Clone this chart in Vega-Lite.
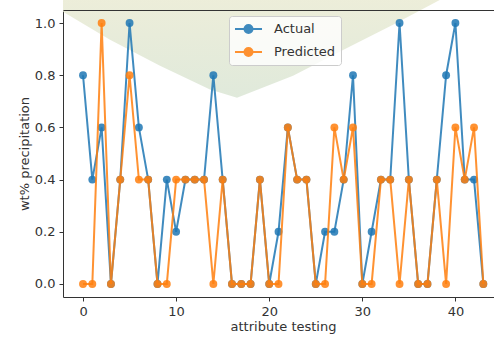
{
  "$schema": "https://vega.github.io/schema/vega-lite/v6.json",
  "autosize": "none",
  "width": 433,
  "height": 287,
  "padding": {"left": 63, "top": 10, "right": 0, "bottom": 40},
  "background": "white",
  "config": {
    "font": "DejaVu Sans",
    "view": {"stroke": null},
    "axis": {
      "grid": false,
      "domain": true,
      "domainColor": "#333333",
      "tickColor": "#333333",
      "tickSize": 4,
      "labelColor": "#333333",
      "labelFontSize": 13,
      "titleColor": "#333333",
      "titleFontSize": 13,
      "titleFontWeight": "normal",
      "zindex": 1
    }
  },
  "resolve": {"axis": {"x": "independent", "y": "independent"}},
  "datasets": {
    "backdrop": [
      {"i": -2.15, "y": 1.043},
      {"i": 2.9, "y": 0.936},
      {"i": 8.27, "y": 0.836},
      {"i": 13.64, "y": 0.745},
      {"i": 16.54, "y": 0.714},
      {"i": 22.56, "y": 0.798},
      {"i": 27.93, "y": 0.897},
      {"i": 33.3, "y": 0.993},
      {"i": 38.35, "y": 1.089}
    ],
    "results": [
      {"i": 0, "series": "Actual", "value": 0.8},
      {"i": 1, "series": "Actual", "value": 0.4},
      {"i": 2, "series": "Actual", "value": 0.6},
      {"i": 3, "series": "Actual", "value": 0.0},
      {"i": 4, "series": "Actual", "value": 0.4},
      {"i": 5, "series": "Actual", "value": 1.0},
      {"i": 6, "series": "Actual", "value": 0.6},
      {"i": 7, "series": "Actual", "value": 0.4},
      {"i": 8, "series": "Actual", "value": 0.0},
      {"i": 9, "series": "Actual", "value": 0.4},
      {"i": 10, "series": "Actual", "value": 0.2},
      {"i": 11, "series": "Actual", "value": 0.4},
      {"i": 12, "series": "Actual", "value": 0.4},
      {"i": 13, "series": "Actual", "value": 0.4},
      {"i": 14, "series": "Actual", "value": 0.8},
      {"i": 15, "series": "Actual", "value": 0.4},
      {"i": 16, "series": "Actual", "value": 0.0},
      {"i": 17, "series": "Actual", "value": 0.0},
      {"i": 18, "series": "Actual", "value": 0.0},
      {"i": 19, "series": "Actual", "value": 0.4},
      {"i": 20, "series": "Actual", "value": 0.0},
      {"i": 21, "series": "Actual", "value": 0.2},
      {"i": 22, "series": "Actual", "value": 0.6},
      {"i": 23, "series": "Actual", "value": 0.4},
      {"i": 24, "series": "Actual", "value": 0.4},
      {"i": 25, "series": "Actual", "value": 0.0},
      {"i": 26, "series": "Actual", "value": 0.2},
      {"i": 27, "series": "Actual", "value": 0.2},
      {"i": 28, "series": "Actual", "value": 0.4},
      {"i": 29, "series": "Actual", "value": 0.8},
      {"i": 30, "series": "Actual", "value": 0.0},
      {"i": 31, "series": "Actual", "value": 0.2},
      {"i": 32, "series": "Actual", "value": 0.4},
      {"i": 33, "series": "Actual", "value": 0.4},
      {"i": 34, "series": "Actual", "value": 1.0},
      {"i": 35, "series": "Actual", "value": 0.4},
      {"i": 36, "series": "Actual", "value": 0.0},
      {"i": 37, "series": "Actual", "value": 0.0},
      {"i": 38, "series": "Actual", "value": 0.4},
      {"i": 39, "series": "Actual", "value": 0.8},
      {"i": 40, "series": "Actual", "value": 1.0},
      {"i": 41, "series": "Actual", "value": 0.4},
      {"i": 42, "series": "Actual", "value": 0.4},
      {"i": 43, "series": "Actual", "value": 0.0},
      {"i": 0, "series": "Predicted", "value": 0.0},
      {"i": 1, "series": "Predicted", "value": 0.0},
      {"i": 2, "series": "Predicted", "value": 1.0},
      {"i": 3, "series": "Predicted", "value": 0.0},
      {"i": 4, "series": "Predicted", "value": 0.4},
      {"i": 5, "series": "Predicted", "value": 0.8},
      {"i": 6, "series": "Predicted", "value": 0.4},
      {"i": 7, "series": "Predicted", "value": 0.4},
      {"i": 8, "series": "Predicted", "value": 0.0},
      {"i": 9, "series": "Predicted", "value": 0.0},
      {"i": 10, "series": "Predicted", "value": 0.4},
      {"i": 11, "series": "Predicted", "value": 0.4},
      {"i": 12, "series": "Predicted", "value": 0.4},
      {"i": 13, "series": "Predicted", "value": 0.4},
      {"i": 14, "series": "Predicted", "value": 0.0},
      {"i": 15, "series": "Predicted", "value": 0.4},
      {"i": 16, "series": "Predicted", "value": 0.0},
      {"i": 17, "series": "Predicted", "value": 0.0},
      {"i": 18, "series": "Predicted", "value": 0.0},
      {"i": 19, "series": "Predicted", "value": 0.4},
      {"i": 20, "series": "Predicted", "value": 0.0},
      {"i": 21, "series": "Predicted", "value": 0.0},
      {"i": 22, "series": "Predicted", "value": 0.6},
      {"i": 23, "series": "Predicted", "value": 0.4},
      {"i": 24, "series": "Predicted", "value": 0.4},
      {"i": 25, "series": "Predicted", "value": 0.0},
      {"i": 26, "series": "Predicted", "value": 0.0},
      {"i": 27, "series": "Predicted", "value": 0.6},
      {"i": 28, "series": "Predicted", "value": 0.4},
      {"i": 29, "series": "Predicted", "value": 0.6},
      {"i": 30, "series": "Predicted", "value": 0.0},
      {"i": 31, "series": "Predicted", "value": 0.0},
      {"i": 32, "series": "Predicted", "value": 0.4},
      {"i": 33, "series": "Predicted", "value": 0.4},
      {"i": 34, "series": "Predicted", "value": 0.0},
      {"i": 35, "series": "Predicted", "value": 0.4},
      {"i": 36, "series": "Predicted", "value": 0.0},
      {"i": 37, "series": "Predicted", "value": 0.0},
      {"i": 38, "series": "Predicted", "value": 0.4},
      {"i": 39, "series": "Predicted", "value": 0.0},
      {"i": 40, "series": "Predicted", "value": 0.6},
      {"i": 41, "series": "Predicted", "value": 0.4},
      {"i": 42, "series": "Predicted", "value": 0.6},
      {"i": 43, "series": "Predicted", "value": 0.0}
    ]
  },
  "layer": [
    {
      "data": {"name": "backdrop"},
      "mark": {
        "type": "area",
        "clip": false,
        "opacity": 0.8,
        "color": {
          "gradient": "linear",
          "x1": 0, "y1": 0, "x2": 0, "y2": 1,
          "stops": [
            {"offset": 0, "color": "#e8e9d0"},
            {"offset": 1, "color": "#d8e4d2"}
          ]
        }
      },
      "encoding": {
        "x": {
          "field": "i",
          "type": "quantitative",
          "scale": {"domain": [-2.15, 44.36], "nice": false, "zero": false},
          "axis": {"orient": "top", "labels": false, "ticks": false, "title": null, "zindex": 1}
        },
        "y": {"field": "y", "type": "quantitative", "axis": null},
        "y2": {"datum": 1.09}
      }
    },
    {
      "data": {"name": "results"},
      "transform": [{"filter": "datum.series === 'Actual'"}],
      "mark": {"type": "line", "strokeWidth": 2, "opacity": 0.85, "point": {"filled": true, "size": 62, "opacity": 0.85}},
      "encoding": {
        "x": {
          "field": "i",
          "type": "quantitative",
          "axis": {
            "values": [0, 10, 20, 30, 40],
            "format": "d",
            "labelPadding": 4,
            "title": "attribute testing",
            "titlePadding": 2,
            "titleX": 220
          }
        },
        "y": {
          "field": "value",
          "type": "quantitative",
          "scale": {"domain": [-0.05, 1.05], "nice": false, "zero": false},
          "axis": {
            "values": [0, 0.2, 0.4, 0.6, 0.8, 1.0],
            "format": ".1f",
            "labelPadding": 4,
            "title": "wt% precipitation",
            "titlePadding": 3
          }
        },
        "color": {
          "field": "series",
          "type": "nominal",
          "scale": {"domain": ["Actual", "Predicted"], "range": ["#1f77b4", "#ff7f0e"]},
          "legend": {
            "title": null,
            "orient": "none",
            "legendX": 166,
            "legendY": 6,
            "padding": 5,
            "fillColor": "rgba(255,255,255,0.8)",
            "strokeColor": "#cccccc",
            "cornerRadius": 3,
            "symbolType": "M-1.93,0L1.93,0M-0.57,0A0.57,0.57,0,1,0,0.57,0A0.57,0.57,0,1,0,-0.57,0Z",
            "symbolSize": 196,
            "symbolOffset": 6.5,
            "symbolStrokeWidth": 2,
            "symbolOpacity": 0.85,
            "labelFontSize": 13,
            "labelColor": "#333333",
            "labelOffset": 17.5,
            "rowPadding": 7,
            "encode": {
              "symbols": {"update": {"fill": {"scale": "color", "field": "value"}, "stroke": {"scale": "color", "field": "value"}}}
            }
          }
        }
      }
    },
    {
      "data": {"name": "results"},
      "transform": [{"filter": "datum.series === 'Predicted'"}],
      "mark": {"type": "line", "strokeWidth": 2, "opacity": 0.85, "point": {"filled": true, "size": 62, "opacity": 0.85}},
      "encoding": {
        "x": {"field": "i", "type": "quantitative", "axis": null},
        "y": {"field": "value", "type": "quantitative", "axis": null},
        "color": {"field": "series", "type": "nominal"}
      }
    }
  ]
}
